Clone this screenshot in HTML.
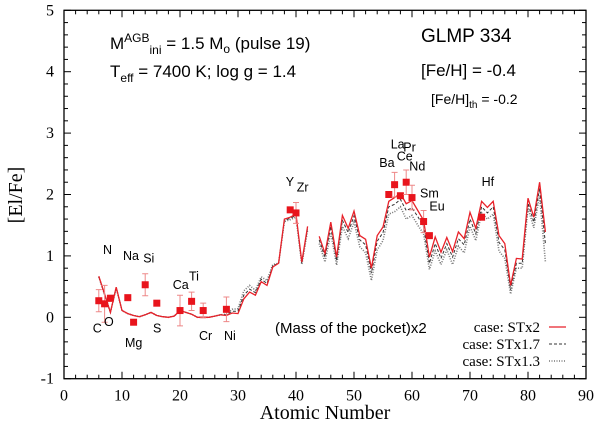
<!DOCTYPE html>
<html><head><meta charset="utf-8"><style>
body{margin:0;background:#fff}
svg{display:block}
.s{font-family:"Liberation Sans",sans-serif}
.r{font-family:"Liberation Serif",serif}
</style></head><body>
<svg id="chart" width="600" height="432" viewBox="0 0 600 432" xmlns="http://www.w3.org/2000/svg">
<g id="axes"></g>
<g id="series"></g>
<g id="obs"></g>
<g id="labels"></g>
<text class="s" x="110" y="49" font-size="17">M<tspan dy="-7" font-size="12">AGB</tspan><tspan dy="12" font-size="12">ini</tspan><tspan dy="-5"> = 1.5 M</tspan><tspan dy="4" font-size="12">o</tspan><tspan dy="-4"> (pulse 19)</tspan></text>
<text class="s" x="110" y="77" font-size="17">T<tspan dy="5" font-size="12">eff</tspan><tspan dy="-5"> = 7400 K; log g = 1.4</tspan></text>
<text class="s" x="421" y="42" font-size="19">GLMP 334</text>
<text class="s" x="421" y="76" font-size="17">[Fe/H] = -0.4</text>
<text class="s" x="431" y="104" font-size="14">[Fe/H]<tspan dy="4" font-size="10">th</tspan><tspan dy="-4"> = -0.2</tspan></text>
<text class="s" x="275" y="333" font-size="15">(Mass of the pocket)x2</text>
<g>
<text class="r" x="540" y="332" font-size="15" text-anchor="end">case: STx2</text>
<line x1="549" y1="327" x2="566" y2="327" stroke="#e8222a" stroke-width="1.3"/>
<text class="r" x="540" y="349" font-size="15" text-anchor="end">case: STx1.7</text>
<line x1="549" y1="344" x2="566" y2="344" stroke="#333" stroke-width="1" stroke-dasharray="3,2"/>
<text class="r" x="540" y="366" font-size="15" text-anchor="end">case: STx1.3</text>
<line x1="549" y1="361" x2="566" y2="361" stroke="#777" stroke-width="1.5" stroke-dasharray="1,1.5"/>
</g>
<text class="r" x="325" y="419" font-size="20" text-anchor="middle">Atomic Number</text>
<text class="r" x="22" y="195" font-size="20" text-anchor="middle" transform="rotate(-90 22 195)">[El/Fe]</text>
</svg>
<script>
const zModel=[6,7,8,9,10,11,12,13,14,15,16,17,18,19,20,21,22,23,24,25,26,27,28,29,30,31,32,33,34,35,36,37,38,39,40,41,42,null,44,45,46,47,48,49,50,51,52,53,54,55,56,57,58,59,60,61,62,63,64,65,66,67,68,69,70,71,72,73,74,75,76,77,78,79,80,81,82,83];
const stx2=[0.67,0.38,0.08,0.49,0.11,0.06,0.03,0.01,0.04,0.08,0.03,0.01,0.0,0.02,0.11,0.08,0.05,0.0,0.0,0.0,0.02,0.04,0.03,0.07,0.06,0.3,0.41,0.36,0.58,0.52,0.82,0.88,1.6,1.63,1.68,0.9,1.48,null,1.32,1.04,1.55,0.98,1.66,1.45,1.73,1.33,1.27,0.8,1.33,1.47,1.89,1.95,2.02,1.85,1.9,1.74,1.58,0.98,1.31,1.06,1.3,1.07,1.39,1.28,1.71,1.45,1.89,1.79,1.89,1.33,1.2,0.52,0.96,0.95,1.94,1.63,2.2,1.39];
const stx17=[0.66,0.37,0.08,0.48,0.11,0.06,0.03,0.01,0.04,0.08,0.03,0.01,0.0,0.02,0.11,0.08,0.05,0.0,0.0,0.0,0.02,0.04,0.04,0.1,0.1,0.36,0.46,0.4,0.62,0.55,0.84,0.88,1.58,1.61,1.66,0.88,1.45,null,1.26,0.98,1.48,0.92,1.58,1.38,1.65,1.26,1.18,0.72,1.24,1.38,1.8,1.84,1.92,1.74,1.78,1.64,1.48,0.88,1.2,0.96,1.2,0.98,1.28,1.18,1.6,1.36,1.8,1.7,1.8,1.22,1.1,0.45,0.88,0.88,1.86,1.55,2.1,1.2];
const stx13=[0.66,0.37,0.08,0.48,0.11,0.06,0.03,0.01,0.04,0.08,0.03,0.01,0.0,0.02,0.11,0.08,0.05,0.0,0.0,0.0,0.02,0.04,0.05,0.13,0.14,0.43,0.52,0.44,0.66,0.6,0.86,0.88,1.56,1.59,1.63,0.86,1.42,null,1.2,0.9,1.38,0.85,1.48,1.28,1.55,1.15,1.05,0.6,1.1,1.25,1.68,1.72,1.8,1.6,1.66,1.5,1.36,0.78,1.08,0.86,1.1,0.86,1.16,1.05,1.48,1.25,1.7,1.6,1.68,1.08,0.96,0.38,0.8,0.8,1.78,1.46,1.98,0.9];
const obsZ=[6,7,8,11,12,14,16,20,22,24,28,39,40,56,57,58,59,60,62,63,72];
const obsVal=[0.27,0.22,0.31,0.32,-0.08,0.53,0.23,0.11,0.26,0.11,0.13,1.75,1.70,2.00,2.16,1.98,2.20,1.95,1.56,1.33,1.63];
const obsErr=[0.18,0.3,0.05,0,0,0.18,0,0.25,0.15,0.12,0.2,0,0.17,0,0.2,0,0.2,0.2,0.18,0,0];
const xTicks=[0,10,20,30,40,50,60,70,80,90];
const yTicks=[-1,0,1,2,3,4,5];
const elNames=["N","Na","Si","Ca","Ti","C","O","Mg","S","Cr","Ni","Y","Zr","La","Pr","Ce","Ba","Nd","Sm","Eu","Hf"];
const elZ=[7,11,14,20,22,6,8,12,16,24,28,39,40,57,59,58,56,60,62,63,72];
const elY=[1.03,0.93,0.89,0.46,0.6,-0.25,-0.14,-0.48,-0.25,-0.37,-0.37,2.14,2.05,2.75,2.7,2.55,2.45,2.39,1.95,1.74,2.14];
const elDx=[-1.6,-4.8,-2,-7.3,-2.6,-6,-6.4,-8.6,-3.8,-4.2,-2.4,-4.5,0.7,-3.9,-2.9,-3.7,-9.5,-2.7,-3.6,0,0];
const X0=64,X1=586,Y0=378.7,Y1=10.3;
const xs=v=>X0+(v-0)/90*(X1-X0);
const ys=v=>Y0-(v+1)/6*(Y0-Y1);
const NS="http://www.w3.org/2000/svg";
function mk(t,a,p){const e=document.createElementNS(NS,t);for(const k in a)e.setAttribute(k,a[k]);p.appendChild(e);return e;}
const ax=document.getElementById('axes');
const fr=mk('rect',{x:X0,y:Y1,width:X1-X0,height:Y0-Y1,fill:'none',stroke:'#000','stroke-width':1.3},ax);


for(let v=0;v<=90;v+=2){const L=v%10==0?7:4;mk('line',{x1:xs(v),x2:xs(v),y1:Y0,y2:Y0-L,stroke:'#000'},ax);mk('line',{x1:xs(v),x2:xs(v),y1:Y1,y2:Y1+L,stroke:'#000'},ax);}
for(let i=0;i<=30;i++){const v=-1+i*0.2;const L=i%5==0?7:4;mk('line',{x1:X0,x2:X0+L,y1:ys(v),y2:ys(v),stroke:'#000'},ax);mk('line',{x1:X1,x2:X1-L,y1:ys(v),y2:ys(v),stroke:'#000'},ax);}
xTicks.forEach(v=>{const t=mk('text',{x:xs(v),y:Y0+22,'font-size':16,'text-anchor':'middle','class':'r'},ax);t.textContent=v;

});
yTicks.forEach(v=>{const t=mk('text',{x:X0-10,y:ys(v)+5,'font-size':16,'text-anchor':'end','class':'r'},ax);t.textContent=v;

});
function path(vals){let d='',pen=false;zModel.forEach((z,i)=>{const v=vals[i];if(z===null||v===null){pen=false;return;}d+=(pen?'L':'M')+xs(z).toFixed(1)+','+ys(v).toFixed(1);pen=true;});return d;}
const sg=document.getElementById('series');
const p3=mk('path',{d:path(stx13),fill:'none',stroke:'#777','stroke-width':1.6,'stroke-dasharray':'1,1.5'},sg);


const p2=mk('path',{d:path(stx17),fill:'none',stroke:'#333','stroke-width':1,'stroke-dasharray':'3,2'},sg);


const p1=mk('path',{d:path(stx2),fill:'none',stroke:'#e8222a','stroke-width':1.3},sg);


const og=document.getElementById('obs');
obsZ.forEach((z,i)=>{const x=xs(z),y=ys(obsVal[i]),e=obsErr[i];
if(e>0){const b=mk('path',{d:`M${x},${ys(obsVal[i]+e)}V${ys(obsVal[i]-e)}M${x-3},${ys(obsVal[i]+e)}h6M${x-3},${ys(obsVal[i]-e)}h6`,stroke:'#e88',fill:'none','stroke-width':1},og);

}
const r=mk('rect',{x:x-3.5,y:y-3.5,width:7,height:7,fill:'#e8141c'},og);

});
const lg=document.getElementById('labels');
elNames.forEach((n,i)=>{const t=mk('text',{x:xs(elZ[i])+elDx[i],y:ys(elY[i]),'font-size':12.5,'class':'s'},lg);t.textContent=n;

});
</script>
</body></html>
